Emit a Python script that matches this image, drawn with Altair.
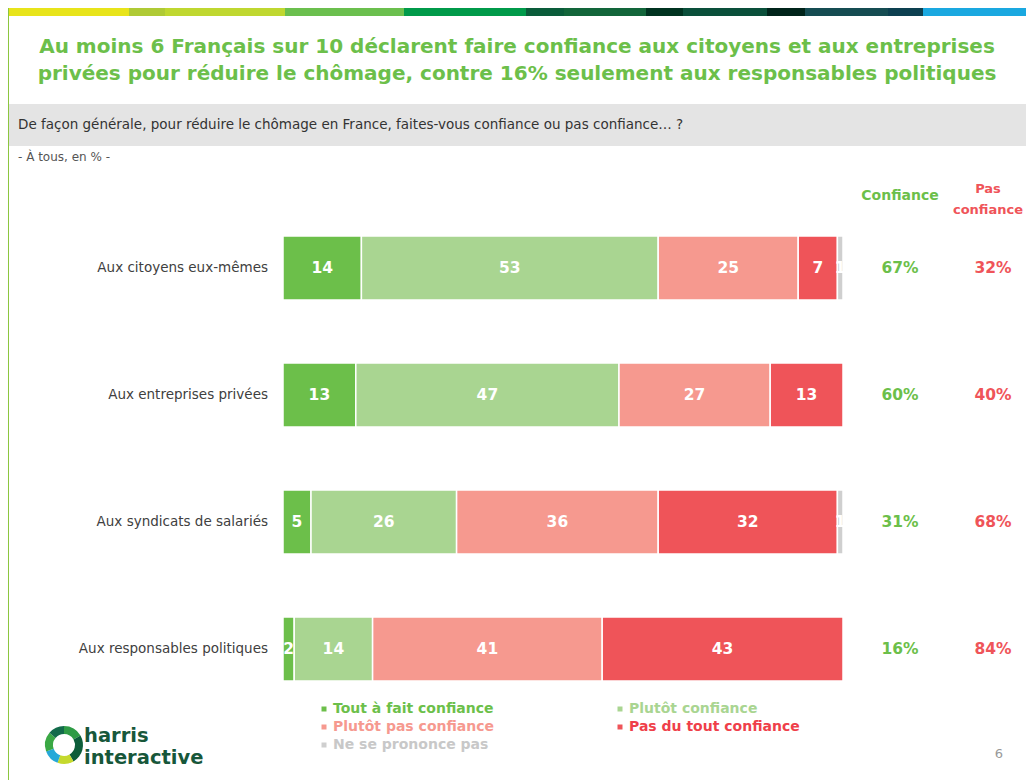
import altair as alt
import pandas as pd

# ---------------- data ----------------
items = ["Aux citoyens eux-mêmes", "Aux entreprises privées",
         "Aux syndicats de salariés", "Aux responsables politiques"]
cats = ["Tout à fait confiance", "Plutôt confiance", "Plutôt pas confiance",
        "Pas du tout confiance", "Ne se prononce pas"]
tout = [14, 13, 5, 2]
plutot = [53, 47, 26, 14]
plutot_pas = [25, 27, 36, 41]
pas_du_tout = [7, 13, 32, 43]
nsp = [1, 0, 1, 0]
confiance = [67, 60, 31, 16]
pas_confiance = [32, 40, 68, 84]

cat_colors = ["#6cbf4a", "#a9d591", "#f6998f", "#ef5459", "#cfcfcf"]
legend_text_colors = ["#6cbf4a", "#a9d591", "#f6998f", "#ef3f4a", "#c8c8c8"]

title_lines = ["Au moins 6 Français sur 10 déclarent faire confiance aux citoyens et aux entreprises",
               "privées pour réduire le chômage, contre 16% seulement aux responsables politiques"]
question = "De façon générale, pour réduire le chômage en France, faites-vous confiance ou pas confiance… ?"
base_note = "- À tous, en % -"

stripe_edges = [0, 121, 157, 277, 396, 518, 556, 638, 675, 759, 797, 880, 915, 1026]
stripe_colors = ["#e8e41a", "#afca35", "#bfd730", "#6bbf4e", "#009a4a", "#0a5c3a",
                 "#12653a", "#003320", "#0a4f3a", "#00241a", "#154c52", "#0d4050", "#1aa8e0"]

logo_vals = [60, 90, 50, 50, 60, 50]
logo_cols = ["#2e9b45", "#0d5e3a", "#c5d92d", "#25a8d8", "#3aa844", "#126b4a"]

# ---------------- tables ----------------
series = [tout, plutot, plutot_pas, pas_du_tout, nsp]
rows = []
for i, it in enumerate(items):
    for k, c in enumerate(cats):
        v = series[k][i]
        if v > 0:
            rows.append({"item": it, "cat": c, "order": k, "value": v})
bars_df = pd.DataFrame(rows)

tot_df = pd.DataFrame({"item": items,
                       "conf": [f"{v}%" for v in confiance],
                       "pas": [f"{v}%" for v in pas_confiance]})

stripe_df = pd.DataFrame({"x0": stripe_edges[:-1], "x1": stripe_edges[1:], "c": stripe_colors})
logo_df = pd.DataFrame({"i": list(range(len(logo_vals))), "v": logo_vals, "c": logo_cols})

leg_x_sq = [316, 612, 316, 612, 316]
leg_y = [701, 701, 719, 719, 737]
legend_df = pd.DataFrame({"cat": cats, "xs": leg_x_sq, "xt": [x + 9 for x in leg_x_sq],
                          "y": leg_y, "tc": legend_text_colors, "sc": cat_colors})

FONT = "DejaVu Sans"

yscale = alt.Scale(domain=items, range=[196.5, 704.5], paddingInner=0.496, paddingOuter=0.248)
xscale = alt.Scale(domain=[0, 100], range=[275, 835])

base = alt.Chart(bars_df).transform_stack(
    stack="value", as_=["x0", "x1"], groupby=["item"], sort=[{"field": "order"}]
).transform_calculate(mid="(datum.x0 + datum.x1) / 2")

bars = base.mark_bar(stroke="white", strokeWidth=1.5).encode(
    x=alt.X("x0:Q", scale=xscale, axis=None),
    x2="x1:Q",
    y=alt.Y("item:N", scale=yscale, axis=None),
    color=alt.Color("cat:N", scale=alt.Scale(domain=cats, range=cat_colors), legend=None),
)
bar_labels = base.mark_text(color="white", fontWeight="bold", fontSize=15.5, font=FONT).encode(
    x=alt.X("mid:Q", scale=xscale, axis=None),
    y=alt.Y("item:N", scale=yscale, axis=None),
    text="value:Q",
)

cat_labels = alt.Chart(tot_df).mark_text(align="right", fontSize=13.5, color="#404040", font=FONT).encode(
    x=alt.value(260), y=alt.Y("item:N", scale=yscale, axis=None), text="item:N")
conf_txt = alt.Chart(tot_df).mark_text(fontSize=15.5, fontWeight="bold", color="#6cbf4a", font=FONT).encode(
    x=alt.value(892), y=alt.Y("item:N", scale=yscale, axis=None), text="conf:N")
pas_txt = alt.Chart(tot_df).mark_text(fontSize=15.5, fontWeight="bold", color="#ef5459", font=FONT).encode(
    x=alt.value(985), y=alt.Y("item:N", scale=yscale, axis=None), text="pas:N")

def txt(t, x, y, font=FONT, **kw):
    return alt.Chart(pd.DataFrame({"t": [t]})).mark_text(font=font, **kw).encode(
        x=alt.value(x), y=alt.value(y), text="t:N")

head_conf = txt("Confiance", 892, 188, fontSize=14, fontWeight="bold", color="#6cbf4a")
head_pas1 = txt("Pas", 980, 181, fontSize=13, fontWeight="bold", color="#ef5459")
head_pas2 = txt("confiance", 980, 202, fontSize=13, fontWeight="bold", color="#ef5459")

title1 = txt(title_lines[0], 509, 39, fontSize=20, fontWeight="bold", color="#6cbf4a")
title2 = txt(title_lines[1], 509, 66, fontSize=20, fontWeight="bold", color="#6cbf4a")

band = alt.Chart(pd.DataFrame({"a": [0]})).mark_rect(color="#e4e4e4").encode(
    x=alt.value(1), x2=alt.value(1018), y=alt.value(96), y2=alt.value(138))
q_txt = txt(question, 10, 117, fontSize=13.5, color="#333333", align="left")
note_txt = txt(base_note, 10, 149, fontSize=12, color="#555555", align="left")

stripe = alt.Chart(stripe_df).mark_rect().encode(
    x=alt.X("x0:Q", scale=None), x2="x1:Q",
    y=alt.value(0), y2=alt.value(8),
    color=alt.Color("c:N", scale=None))
left_line = alt.Chart(pd.DataFrame({"a": [0]})).mark_rule(color="#8cc63f", strokeWidth=2).encode(
    x=alt.value(0), y=alt.value(0), y2=alt.value(772))

leg_sq = alt.Chart(legend_df).mark_square(size=25, opacity=1).encode(
    x=alt.X("xs:Q", scale=None), y=alt.Y("y:Q", scale=None),
    color=alt.Color("sc:N", scale=None))
leg_tx = alt.Chart(legend_df).mark_text(align="left", fontSize=14, fontWeight="bold", font=FONT).encode(
    x=alt.X("xt:Q", scale=None), y=alt.Y("y:Q", scale=None), text="cat:N",
    color=alt.Color("tc:N", scale=None))

logo = alt.Chart(logo_df).mark_arc(radius=19, radius2=11).encode(
    theta=alt.Theta("v:Q", stack=True),
    order=alt.Order("i:Q"),
    color=alt.Color("c:N", scale=None),
    x=alt.value(56), y=alt.value(737))
harris = txt("harris", 76, 728, fontSize=19.5, fontWeight="bold", color="#17573a", align="left")
interactive = txt("interactive", 76, 750, fontSize=19.5, fontWeight="bold", color="#17573a", align="left")
page = txt("6", 991, 746, fontSize=13, color="#999999")

chart = alt.layer(
    stripe, left_line, band, q_txt, note_txt, title1, title2,
    bars, bar_labels, cat_labels, conf_txt, pas_txt, head_conf, head_pas1, head_pas2,
    leg_sq, leg_tx, logo, harris, interactive, page,
).resolve_scale(x="independent", y="independent", color="independent", theta="independent").properties(
    width=1018, height=772, padding=0, autosize=alt.AutoSizeParams(type="none"),
    background="white",
).configure_view(stroke=None)

chart.save("out.html", embed_options={"renderer": "svg", "actions": False})
